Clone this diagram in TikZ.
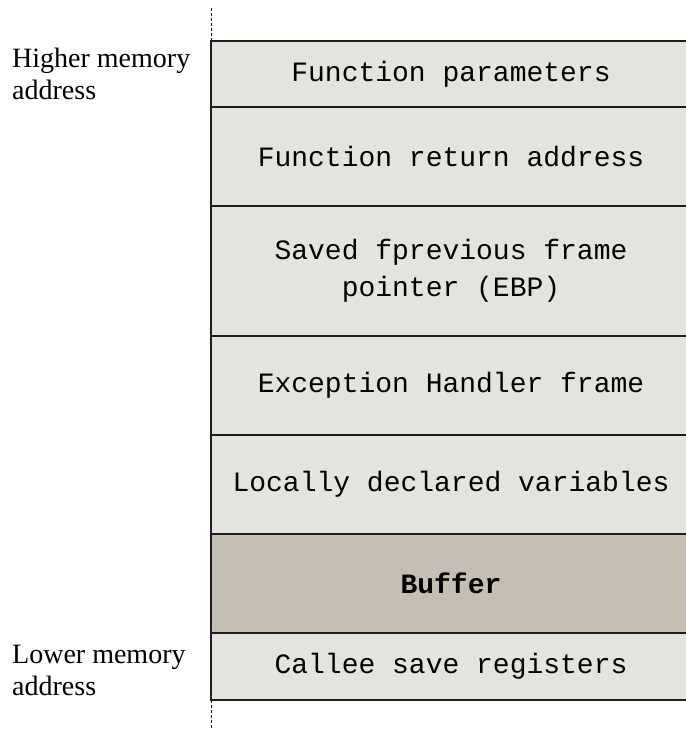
\documentclass[tikz,border=0pt]{standalone}
\usepackage{fontspec}
\setmainfont{Liberation Serif}
\setmonofont{Liberation Mono}
\definecolor{slotgray}{HTML}{E5E3DE}
\definecolor{buffergray}{HTML}{C5BEB2}
\definecolor{edgegray}{HTML}{1E1E1E}
\begin{document}
\begin{tikzpicture}[x=1pt,y=-1pt,
        slot/.style={draw=edgegray,line width=2pt,fill=slotgray,minimum width=480pt,anchor=north west,inner sep=0pt,outer sep=0pt,align=center,font=\ttfamily\fontsize{28}{37}\selectfont},
        side/.style={anchor=north west,align=left,inner sep=0pt,font=\fontsize{28}{32}\selectfont}]
        \useasboundingbox (0,0) rectangle (686,729);
        \node[slot,minimum height=66pt] (params) at (211,41) {Function parameters};
        \node[slot,minimum height=99pt] (ret) at (params.south west) {Function return address};
        \node[slot,minimum height=130pt] (ebp) at (ret.south west) {Saved fprevious frame\\pointer (EBP)};
        \node[slot,minimum height=99pt] (seh) at (ebp.south west) {Exception Handler frame};
        \node[slot,minimum height=99pt] (locals) at (seh.south west) {Locally declared variables};
        \node[slot,minimum height=99pt,fill=buffergray,font=\ttfamily\bfseries\fontsize{28}{37}\selectfont] (buffer) at (locals.south west) {Buffer};
        \node[slot,minimum height=67pt] (callee) at (buffer.south west) {Callee save registers};
        \coordinate (top) at (211,8);
        \coordinate (bottom) at (211,729);
        \draw[densely dashed,edgegray,line width=1pt] (top) -- (params.north west);
        \draw[densely dashed,edgegray,line width=1pt] (callee.south west) -- (bottom);
        \node[side] (high) at (12,48) {Higher memory\\address};
        \node[side] (low) at (12,645) {Lower memory\\address};
    \end{tikzpicture}
\end{document}
